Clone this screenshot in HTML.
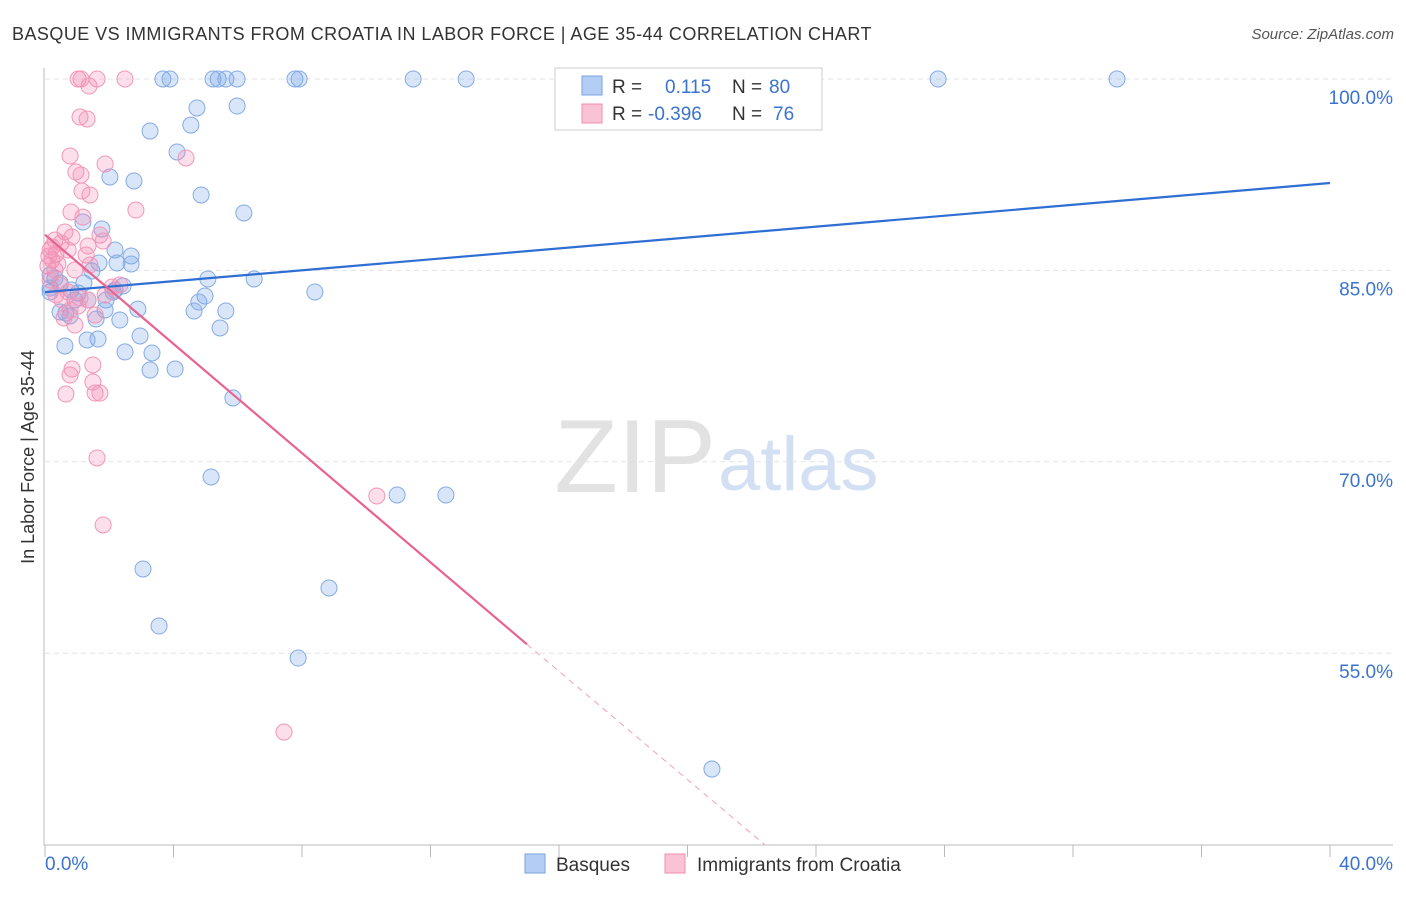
<!DOCTYPE html>
<html><head><meta charset="utf-8"><style>
body{margin:0;background:#fff;font-family:"Liberation Sans",sans-serif;}
svg text{font-family:"Liberation Sans",sans-serif;}
</style></head><body>
<svg id="chart" width="1406" height="892" xmlns="http://www.w3.org/2000/svg">
<text x="12" y="40" font-size="18" fill="#333" letter-spacing="0.45">BASQUE VS IMMIGRANTS FROM CROATIA IN LABOR FORCE | AGE 35-44 CORRELATION CHART</text>
<text x="1394" y="39" font-size="15" fill="#555" font-style="italic" text-anchor="end">Source: ZipAtlas.com</text>
<text x="34" y="457" font-size="18" fill="#333" text-anchor="middle" transform="rotate(-90 34 457)">In Labor Force | Age 35-44</text>
<g id="grid"></g>
<text x="716" y="492" font-size="104" fill="#e2e2e2" text-anchor="end" font-family="Liberation Serif">ZIP</text>
<text x="718" y="490" font-size="76" fill="#d3e0f3">atlas</text>
<g id="axes"></g>
<g id="pts"></g>
<g id="lines"></g>
<g>
<rect x="555" y="68" width="267" height="62" fill="#fff" stroke="#ccc"/>
<rect x="582" y="76" width="20" height="19" fill="#b3cdf5" stroke="#7aa3e0"/>
<rect x="582" y="104" width="20" height="19" fill="#f9c3d5" stroke="#f08cb0"/>
<text x="612" y="93" font-size="19" fill="#333">R = <tspan x="665" fill="#3a73d0">0.115</tspan><tspan x="732" fill="#333">N =</tspan><tspan x="769" fill="#3a73d0">80</tspan></text>
<text x="612" y="120" font-size="19" fill="#333">R = <tspan x="648" fill="#3a73d0">-0.396</tspan><tspan x="732" fill="#333">N =</tspan><tspan x="773" fill="#3a73d0">76</tspan></text>
</g>
<g>
<rect x="525" y="854" width="20" height="19" fill="#b3cdf5" stroke="#7aa3e0"/>
<text x="556" y="871" font-size="19" fill="#333">Basques</text>
<rect x="665" y="854" width="20" height="19" fill="#f9c3d5" stroke="#f08cb0"/>
<text x="697" y="871" font-size="19" fill="#333">Immigrants from Croatia</text>
</g>
</svg>
<script>
const yTicks=[100,85,70,55];
const yTickLabels=["100.0%","85.0%","70.0%","55.0%"];
const xTickLabels=["0.0%","40.0%"];
const bluePx=[[163,79],[170,79],[213,79],[218,79],[226,79],[237,79],[295,79],[299,79],[413,79],[466,79],[938,79],[1117,79],[197,108],[237,106],[150,131],[191,125],[177,152],[110,177],[134,181],[201,195],[244,213],[83,222],[102,229],[115,250],[131,256],[117,263],[131,264],[208,279],[254,279],[92,271],[99,263],[50,275],[55,278],[60,283],[50,292],[71,290],[78,293],[84,283],[113,292],[123,286],[106,300],[115,290],[205,296],[199,302],[194,311],[226,311],[138,309],[105,310],[60,312],[70,316],[96,319],[120,320],[220,328],[140,336],[98,339],[87,340],[65,346],[125,352],[152,353],[150,370],[175,369],[233,398],[315,292],[211,477],[397,495],[446,495],[143,569],[329,588],[159,626],[298,658],[712,769],[50,288],[75,300],[88,300],[66,313]];
const pinkPx=[[78,79],[81,79],[97,79],[125,79],[89,86],[80,117],[87,119],[70,156],[105,164],[76,172],[81,175],[186,158],[90,195],[82,191],[136,210],[71,212],[83,217],[65,232],[72,237],[100,235],[55,240],[61,243],[50,250],[56,254],[68,250],[88,246],[103,241],[52,260],[48,266],[55,270],[75,270],[90,265],[50,280],[60,285],[68,292],[80,298],[88,300],[78,306],[56,295],[64,318],[75,325],[95,315],[105,295],[112,287],[93,365],[72,369],[70,375],[93,382],[95,393],[100,393],[66,394],[97,458],[103,525],[377,496],[284,732],[49,256],[52,247],[58,264],[62,300],[70,310],[86,255],[120,285]];
const blueX=bluePx.map(p=>+((p[0]-45)/32.125).toFixed(2));
const blueY=bluePx.map(p=>+(100-(p[1]-79)/12.76).toFixed(2));
const pinkX=pinkPx.map(p=>+((p[0]-45)/32.125).toFixed(2));
const pinkY=pinkPx.map(p=>+(100-(p[1]-79)/12.76).toFixed(2));
const blueTrend=[[0,83.3],[40,91.85]];
const pinkTrend=[[0,87.8],[15,55.7],[22.4,40.0]];
const X=v=>45+v*32.125, Y=v=>79+(100-v)*12.76;
const NS="http://www.w3.org/2000/svg";
function mk(t,a,p){const e=document.createElementNS(NS,t);for(const k in a)e.setAttribute(k,a[k]);p.appendChild(e);return e;}
const grid=document.getElementById('grid'),axes=document.getElementById('axes');
yTicks.forEach((v,i)=>{
 const l=mk('line',{x1:45,x2:1393,y1:Y(v),y2:Y(v),stroke:'#e3e3e3','stroke-dasharray':'5,4'},grid);
 
 
 const t=mk('text',{x:1393,y:Y(v)+25,'font-size':19,fill:'#3a73d0','text-anchor':'end'},axes);
 t.textContent=yTickLabels[i];
 
 
});
let a=mk('line',{x1:44,x2:44,y1:68,y2:845,stroke:'#bbb'},axes);


a=mk('line',{x1:44,x2:1393,y1:845,y2:845,stroke:'#bbb'},axes);


for(let i=0;i<=10;i++){const t=mk('line',{x1:X(i*4),x2:X(i*4),y1:845,y2:857,stroke:'#bbb'},axes);
 
 }
let tl=mk('text',{x:45,y:870,'font-size':19,fill:'#3a73d0'},axes);tl.textContent=xTickLabels[0];


tl=mk('text',{x:1393,y:870,'font-size':19,fill:'#3a73d0','text-anchor':'end'},axes);tl.textContent=xTickLabels[1];


const pts=document.getElementById('pts');
blueX.forEach((x,i)=>{const c=mk('circle',{cx:X(x),cy:Y(blueY[i]),r:8,fill:'rgba(120,165,235,0.28)',stroke:'#85abe3','stroke-width':1},pts);
 
 });
pinkX.forEach((x,i)=>{const c=mk('circle',{cx:X(x),cy:Y(pinkY[i]),r:8,fill:'rgba(245,140,180,0.28)',stroke:'#f296b7','stroke-width':1},pts);
 
 });
const lines=document.getElementById('lines');
let ln=mk('line',{x1:X(blueTrend[0][0]),y1:Y(blueTrend[0][1]),x2:X(blueTrend[1][0]),y2:Y(blueTrend[1][1]),stroke:'#2f6fd4','stroke-width':2.2},lines);


ln=mk('line',{x1:X(pinkTrend[0][0]),y1:Y(pinkTrend[0][1]),x2:X(pinkTrend[1][0]),y2:Y(pinkTrend[1][1]),stroke:'#e8638f','stroke-width':2.2},lines);


ln=mk('line',{x1:X(pinkTrend[1][0]),y1:Y(pinkTrend[1][1]),x2:X(pinkTrend[2][0]),y2:Y(pinkTrend[2][1]),stroke:'#f0a0bc','stroke-width':1,'stroke-dasharray':'6,5'},lines);


</script>
</body></html>
